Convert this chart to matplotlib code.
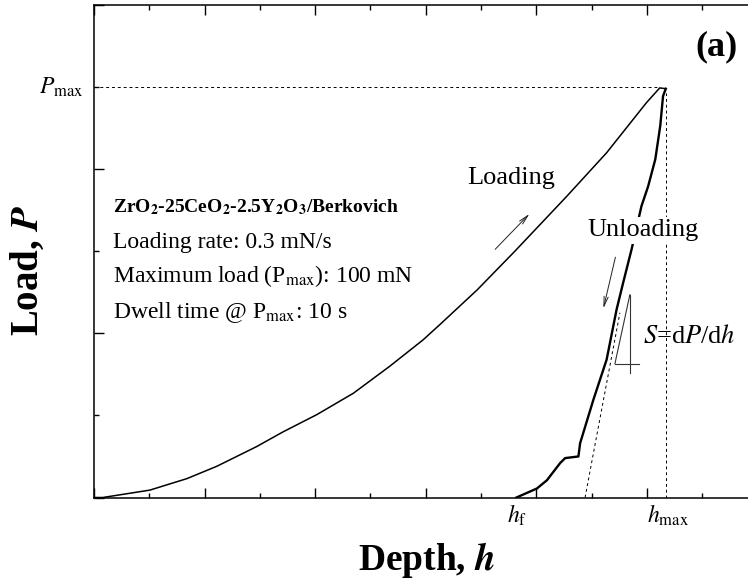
import numpy as np
import matplotlib
matplotlib.use("Agg")
import matplotlib.pyplot as plt

# Curva di carico (profondita, carico)
load_h = [0.0, 0.16, 1.01, 1.68, 2.22, 2.94, 3.42, 4.03, 4.69, 5.35, 5.95, 6.26,
          6.93, 7.61, 8.55, 9.27, 9.99, 10.23, 10.34]
load_p = [0.0, 0.0, 0.09, 0.23, 0.38, 0.62, 0.80, 1.01, 1.27, 1.60, 1.92, 2.11,
          2.53, 3.00, 3.67, 4.20, 4.81, 4.99, 4.98]

# Curva di scarico
unload_h = [10.34, 10.29, 10.24, 10.15, 10.02, 9.90, 9.72, 9.57, 9.45, 9.27, 9.03,
            8.79, 8.76, 8.52, 8.43, 8.19, 8.01, 7.64]
unload_p = [4.98, 4.89, 4.53, 4.12, 3.79, 3.55, 3.02, 2.62, 2.29, 1.68, 1.19,
            0.66, 0.50, 0.48, 0.42, 0.21, 0.11, 0.0]

# Tangente allo scarico e triangolo della pendenza
tangent_h = [8.88, 9.51]
tangent_p = [0.0, 2.25]
tri_slant_h = [9.42, 9.69]
tri_slant_p = [1.63, 2.47]
tri_vert_h = [9.69, 9.69]
tri_vert_p = [2.47, 1.52]
tri_horz_h = [9.42, 9.86]
tri_horz_p = [1.63, 1.63]

P_MAX = 5.0
H_MAX = 10.34
H_F = 7.64

info_lines = [
    "Loading rate: 0.3 mN/s",
    r"Maximum load (P$_{\rm max}$): 100 mN",
    r"Dwell time @ P$_{\rm max}$: 10 s",
]

plt.rcParams['font.family'] = ['Liberation Serif', 'DejaVu Serif']
plt.rcParams['mathtext.fontset'] = 'stix'

W, H = 748, 582
fig = plt.figure(figsize=(W / 100, H / 100), dpi=100)
ax = fig.add_axes([94 / W, (H - 497.5) / H, 1 - 94 / W, (497.5 - 5) / H])

ax.set_xlim(0, (W - 94) / 55.3)
ax.set_ylim(0, 6)

# Curve
ax.plot(load_h, load_p, color='black', lw=1.1)
ax.plot(unload_h, unload_p, color='black', lw=1.7)

# Linee tratteggiate
dash = (0, (3, 3))
ax.plot([0, 10.22], [P_MAX, P_MAX], color='black', lw=0.7, linestyle=dash)
ax.plot([H_MAX, H_MAX], [0, 4.93], color='black', lw=0.7, linestyle=dash)
ax.plot(tangent_h, tangent_p, color='black', lw=0.7, linestyle=dash)

# Triangolo S
for xs, ys in [(tri_slant_h, tri_slant_p), (tri_vert_h, tri_vert_p), (tri_horz_h, tri_horz_p)]:
    ax.plot(xs, ys, color='#333333', lw=0.8)

# Frecce
arrow = dict(arrowstyle='->,head_length=0.7,head_width=0.15', lw=0.7, color='#222222')
ax.annotate('', xy=(7.91, 3.48), xytext=(7.22, 3.0), arrowprops=arrow)
ax.annotate('', xy=(9.20, 2.27), xytext=(9.44, 2.96), arrowprops=arrow)

# Etichette
ax.text(8.34, 3.82, "Loading", fontsize=19, ha='right', va='baseline')
ax.text(9.93, 3.18, "Unloading", fontsize=19, ha='center', va='baseline',
        bbox=dict(facecolor='white', edgecolor='none', pad=1.5))
ax.text(9.93, 1.88, r"$S$=d$P$/d$h$", fontsize=19, ha='left', va='baseline')

ax.text(0.34, (497.5 - 212) / 82.08,
        r"ZrO$_\mathbf{2}$-25CeO$_\mathbf{2}$-2.5Y$_\mathbf{2}$O$_\mathbf{3}$/Berkovich",
        fontsize=14, fontweight='bold', ha='left', va='baseline')
for line, base in zip(info_lines, [248, 282, 318]):
    ax.text(0.34, (497.5 - base) / 82.08, line, fontsize=17, ha='left', va='baseline')

ax.text(-0.18, P_MAX, r"$P_{\rm max}$", fontsize=17, ha='right', va='center')
ax.text(7.47, -0.31, r"$h_{\rm f}$", fontsize=17, ha='left', va='baseline')
ax.text(10.0, -0.31, r"$h_{\rm max}$", fontsize=17, ha='left', va='baseline')

fig.text(716.7 / W, 1 - 46.7 / H, "(a)", fontsize=26, fontweight='bold',
         ha='center', va='center')

# Titoli assi
fig.text(426.7 / W, (H - 570) / H, r"Depth, $\mathbfit{h}$", fontsize=27,
         fontweight='bold', ha='center', va='baseline')
fig.text(28 / W, 1 - 270 / H, r"Load, $\mathbfit{P}$", fontsize=28,
         fontweight='bold', ha='center', va='center', rotation=90)

# Tacche
ax.set_xticks(np.arange(0, 12, 2))
ax.set_xticks(np.arange(1, 12, 2), minor=True)
ax.set_yticks(np.arange(0, 7, 2))
ax.set_yticks(np.arange(1, 7, 2), minor=True)
ax.tick_params(which='both', direction='in', top=True, right=False,
               labelbottom=False, labelleft=False, width=1.0)
ax.tick_params(which='major', length=7.2)
ax.tick_params(which='minor', length=3.6)
ax.spines['right'].set_visible(False)
for s in ['left', 'bottom', 'top']:
    ax.spines[s].set_linewidth(1.1)

fig.savefig("out.png", dpi=100)
